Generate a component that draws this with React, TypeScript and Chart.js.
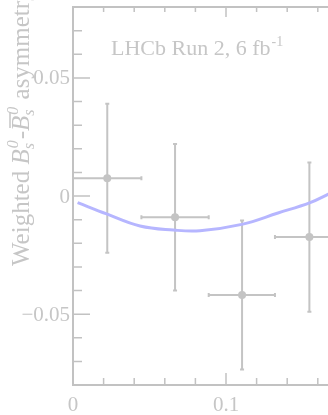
import React, { useEffect, useRef } from "react";
import { Chart, registerables } from "chart.js";

Chart.register(...registerables);

// Binned measurement
const binCenters = [0.0224, 0.0667, 0.1105, 0.1545];
const binLow = [0.0, 0.0447, 0.0887, 0.132];
const binHigh = [0.0447, 0.0887, 0.132, 0.177];
const asymValues = [0.0075, -0.009, -0.0419, -0.0174];
const asymErrors = [0.0315, 0.031, 0.0315, 0.0316];

// Fitted curve
const curveX = [0.003, 0.022, 0.0438, 0.0656, 0.083, 0.1103, 0.134, 0.155, 0.1669, 0.175];
const curveY = [-0.0028, -0.0076, -0.0127, -0.0144, -0.0147, -0.012, -0.0072, -0.0028, 0.0008, 0.0035];

// Axes
const xMin = 0;
const xMax = 0.2;
const yMin = -0.08;
const yMax = 0.08;
const xMajorTicks = [0, 0.1, 0.2];
const xMajorLabels = ["0", "0.1", "0.2"];
const yMajorTicks = [-0.05, 0, 0.05];
const yMajorLabels = ["\u22120.05", "0", "0.05"];
const xMinorStep = 0.02;
const yMinorStep = 0.01;

const AXIS = "#c2c2c2";
const TEXT = "#c6c6c6";
const MARK = "#c4c4c4";
const CURVE = "#b6b6ff";
const SERIF = '"Liberation Serif", "Times New Roman", Times, "DejaVu Serif", serif';

const decoPlugin = {
  id: "deco",
  beforeDatasetsDraw(chart: any) {
    const { ctx, scales, chartArea } = chart;
    const xs = scales.x;
    const ys = scales.y;
    ctx.save();
    ctx.beginPath();
    ctx.rect(chartArea.left, chartArea.top, chartArea.right - chartArea.left, chartArea.bottom - chartArea.top);
    ctx.clip();
    ctx.strokeStyle = MARK;
    ctx.lineWidth = 2;
    for (let i = 0; i < binCenters.length; i++) {
      const cx = xs.getPixelForValue(binCenters[i]);
      const cy = ys.getPixelForValue(asymValues[i]);
      const x0 = xs.getPixelForValue(binLow[i]);
      const x1 = xs.getPixelForValue(binHigh[i]);
      const y0 = ys.getPixelForValue(asymValues[i] + asymErrors[i]);
      const y1 = ys.getPixelForValue(asymValues[i] - asymErrors[i]);
      ctx.beginPath();
      ctx.moveTo(x0, cy);
      ctx.lineTo(x1, cy);
      ctx.moveTo(cx, y0);
      ctx.lineTo(cx, y1);
      ctx.moveTo(x0, cy - 2);
      ctx.lineTo(x0, cy + 2);
      ctx.moveTo(x1, cy - 2);
      ctx.lineTo(x1, cy + 2);
      ctx.moveTo(cx - 2, y0);
      ctx.lineTo(cx + 2, y0);
      ctx.moveTo(cx - 2, y1);
      ctx.lineTo(cx + 2, y1);
      ctx.stroke();
    }
    ctx.restore();
  },
  afterDraw(chart: any) {
    const { ctx, scales, chartArea } = chart;
    const xs = scales.x;
    const ys = scales.y;
    const L = chartArea.left;
    const R = chartArea.right;
    const T = chartArea.top;
    const B = chartArea.bottom;
    ctx.save();
    ctx.strokeStyle = AXIS;
    ctx.lineWidth = 2;
    ctx.beginPath();
    ctx.rect(L, T, R - L, B - T);
    ctx.stroke();

    ctx.lineWidth = 1.5;
    ctx.beginPath();
    for (let v = xMin; v <= xMax + 1e-9; v += xMinorStep) {
      const px = xs.getPixelForValue(v);
      const major = xMajorTicks.some((m) => Math.abs(m - v) < 1e-9);
      ctx.moveTo(px, B);
      ctx.lineTo(px, B - (major ? 12 : 7));
      ctx.moveTo(px, T);
      ctx.lineTo(px, T + (major ? 10 : 5));
    }
    for (let v = yMin; v <= yMax + 1e-9; v += yMinorStep) {
      const py = ys.getPixelForValue(v);
      const major = yMajorTicks.some((m) => Math.abs(m - v) < 1e-9);
      ctx.moveTo(L, py);
      ctx.lineTo(L + (major ? 17 : 9), py);
    }
    ctx.stroke();

    ctx.fillStyle = TEXT;
    ctx.font = `21px ${SERIF}`;
    ctx.textAlign = "right";
    ctx.textBaseline = "middle";
    yMajorTicks.forEach((v, i) => {
      ctx.fillText(yMajorLabels[i], L - 3, ys.getPixelForValue(v) + 1);
    });
    ctx.textAlign = "center";
    ctx.textBaseline = "alphabetic";
    xMajorTicks.forEach((v, i) => {
      ctx.fillText(xMajorLabels[i], xs.getPixelForValue(v), B + 26);
    });

    ctx.textAlign = "left";
    ctx.font = `22px ${SERIF}`;
    const lbl = "LHCb Run 2, 6 fb";
    ctx.fillText(lbl, 111, 55);
    const w = ctx.measureText(lbl).width;
    ctx.font = `14px ${SERIF}`;
    ctx.fillText("-1", 111 + w + 1, 46);

    // y-axis title
    ctx.translate(29, 266);
    ctx.rotate(-Math.PI / 2);
    let x = 0;
    const big = 25;
    const small = 16;
    const normal = `${big}px ${SERIF}`;
    const ital = `italic ${big}px ${SERIF}`;
    const italSmall = `italic ${small}px ${SERIF}`;
    const put = (t: string, font: string, dy = 0) => {
      ctx.font = font;
      ctx.fillText(t, x, dy);
      const ww = ctx.measureText(t).width;
      x += ww;
      return ww;
    };
    const supsub = () => {
      ctx.font = italSmall;
      const w1 = ctx.measureText("0").width;
      const w2 = ctx.measureText("s").width;
      ctx.fillText("0", x + 1, -11);
      ctx.fillText("s", x, 5);
      x += Math.max(w1 + 1, w2) + 1;
    };
    put("Weighted ", normal);
    put("B", ital);
    supsub();
    put("-", normal);
    const bx = x;
    const bw = put("B", ital);
    ctx.strokeStyle = TEXT;
    ctx.lineWidth = 1.5;
    ctx.beginPath();
    ctx.moveTo(bx + 3, -19);
    ctx.lineTo(bx + bw + 3, -19);
    ctx.stroke();
    supsub();
    put(" asymmetry", normal);
    ctx.restore();
  },
};

export default function App() {
  const ref = useRef<HTMLCanvasElement | null>(null);
  useEffect(() => {
    if (!ref.current) return;
    const chart = new Chart(ref.current, {
      type: "scatter",
      data: {
        datasets: [
          {
            label: "fit",
            data: curveX.map((x, i) => ({ x, y: curveY[i] })),
            showLine: true,
            borderColor: CURVE,
            borderWidth: 3,
            pointRadius: 0,
            tension: 0.4,
            order: 2,
          } as any,
          {
            label: "data",
            data: binCenters.map((x, i) => ({ x, y: asymValues[i] })),
            showLine: false,
            pointRadius: 4,
            pointBackgroundColor: MARK,
            pointBorderColor: MARK,
            pointBorderWidth: 0,
            order: 1,
          },
        ],
      },
      options: {
        animation: false,
        responsive: false,
        layout: { padding: { left: 73, top: 7, bottom: 30, right: 21 } },
        plugins: { legend: { display: false }, tooltip: { enabled: false } },
        scales: {
          x: { type: "linear", min: xMin, max: xMax, display: false },
          y: { type: "linear", min: yMin, max: yMax, display: false },
        },
      },
      plugins: [decoPlugin],
    });
    return () => {
      chart.destroy();
    };
  }, []);
  return (
    <div
      style={{
        position: "fixed",
        left: 0,
        top: 0,
        width: 328,
        height: 415,
        overflow: "hidden",
        background: "#fff",
      }}
    >
      <canvas ref={ref} width={400} height={415} style={{ width: 400, height: 415, display: "block" }} />
    </div>
  );
}
